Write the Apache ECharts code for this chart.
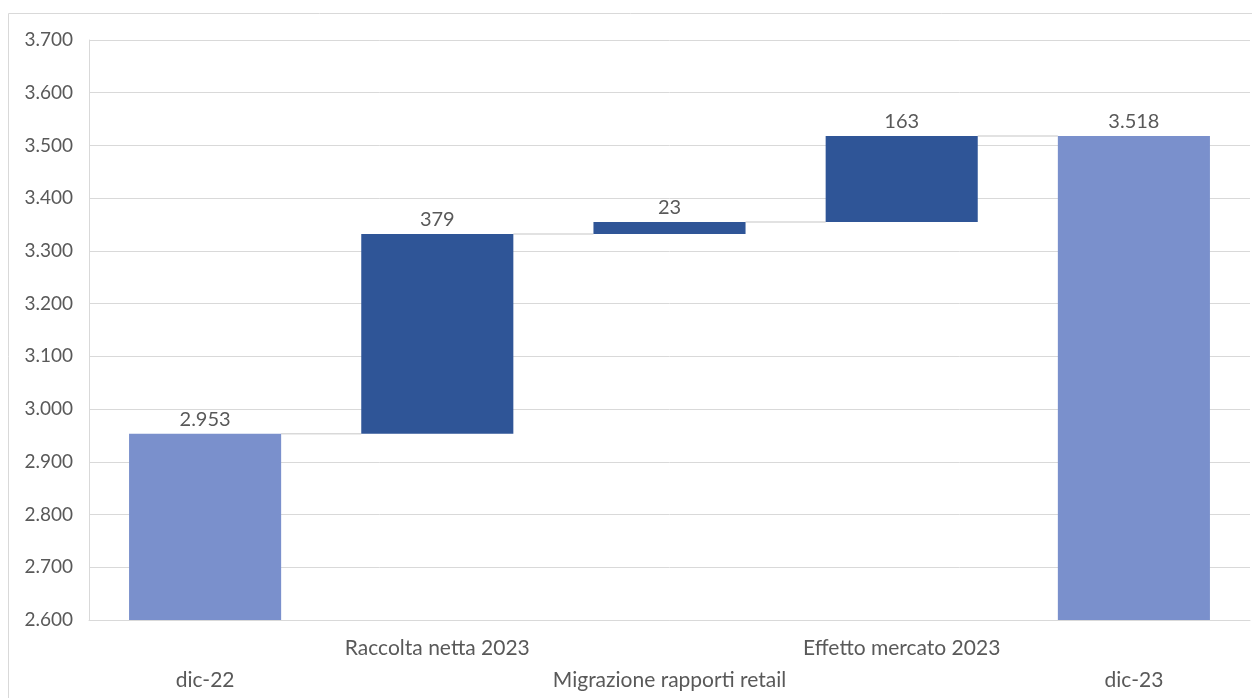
<!DOCTYPE html>
<html><head><meta charset="utf-8">
<script src="https://cdn.jsdelivr.net/npm/echarts@6/dist/echarts.min.js"></script>
<style>html,body{margin:0;padding:0;background:#fff}#c{width:1252px;height:698px}</style>
</head><body><div id="c"></div>
<script>
const categories = ['dic-22', 'Raccolta netta 2023', 'Migrazione rapporti retail', 'Effetto mercato 2023', 'dic-23'];
const totalValues = [2953, null, null, null, 3518];
const deltaValues = [null, 379, 23, 163, null];
const yTicks = {min: 2600, max: 3700, interval: 100};

// derived: invisible base under each delta, and the level after each bar
const baseValues = [];
const levels = [];
let run = 0;
categories.forEach((c, i) => {
  if (totalValues[i] != null) { baseValues.push(0); run = totalValues[i]; }
  else { baseValues.push(run); run += deltaValues[i]; }
  levels.push(run);
});
const connectorData = levels.slice(0, -1).map((v, i) => [i, v]);

const fmtNum = v => { const s = String(Math.round(v)); return s.replace(/\B(?=(\d{3})+(?!\d))/g, '.'); };
const FONT = 'Lato';
const TXT = '#595959';
const BARW = 0.655;

const chart = echarts.init(document.getElementById('c'));
chart.setOption({
  animation: false,
  graphic: [{type: 'rect', shape: {x: 8.5, y: 13.5, width: 1300, height: 700}, style: {fill: 'none', stroke: '#d9d9d9', lineWidth: 1}, silent: true, z: -1}],
  grid: {left: 89, right: 2, top: 40, bottom: 78, outerBoundsMode: 'none', containLabel: false},
  xAxis: {
    type: 'category', data: categories,
    axisLine: {lineStyle: {color: '#d9d9d9'}},
    axisTick: {show: false},
    axisLabel: {
      interval: 0, margin: 12, color: TXT, fontFamily: FONT, fontSize: 21, lineHeight: 32,
      formatter: (v, i) => i % 2 === 0 ? '\n' + v : v
    }
  },
  yAxis: {
    type: 'value', min: yTicks.min, max: yTicks.max, interval: yTicks.interval,
    axisLine: {show: true, lineStyle: {color: '#d9d9d9'}},
    axisTick: {show: false},
    splitLine: {lineStyle: {color: '#d9d9d9'}},
    axisLabel: {color: TXT, fontFamily: FONT, fontSize: 19, margin: 16, formatter: v => fmtNum(v)}
  },
  series: [
    {type: 'bar', stack: 'w', data: baseValues, barWidth: (BARW * 100) + '%', itemStyle: {color: 'transparent'}, silent: true},
    {type: 'bar', stack: 'w', data: deltaValues.map(v => v == null ? '-' : v), itemStyle: {color: '#2f5597'},
      label: {show: true, position: 'top', distance: 4, color: TXT, fontFamily: FONT, fontSize: 20, formatter: p => fmtNum(p.value)}},
    {type: 'bar', stack: 'w', data: totalValues.map(v => v == null ? '-' : v), itemStyle: {color: '#7a90cc'},
      label: {show: true, position: 'top', distance: 4, color: TXT, fontFamily: FONT, fontSize: 20, formatter: p => fmtNum(p.value)}},
    {type: 'custom', data: connectorData, z: 1, silent: true,
      renderItem: (params, api) => {
        const i = api.value(0), v = api.value(1);
        const a = api.coord([i, v]), b = api.coord([i + 1, v]);
        const w = api.size([1, 0])[0] * BARW;
        return {type: 'line', shape: {x1: a[0] + w / 2, y1: a[1], x2: b[0] - w / 2, y2: b[1]}, style: {stroke: '#d9d9d9', lineWidth: 1.5}};
      }}
  ]
});
</script></body></html>
